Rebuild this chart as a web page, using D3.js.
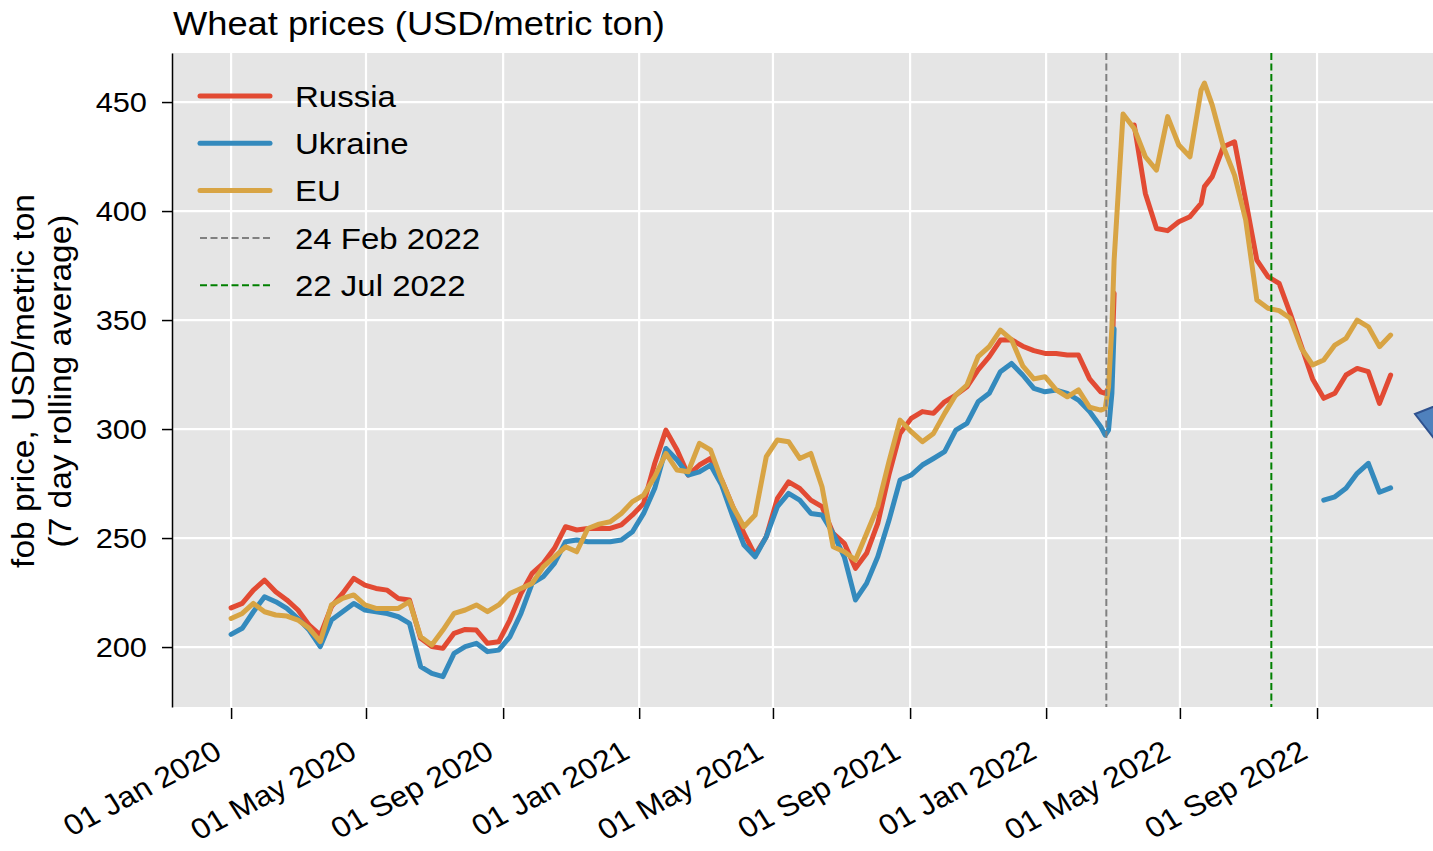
<!DOCTYPE html>
<html>
<head>
<meta charset="utf-8">
<script src="https://cdn.jsdelivr.net/npm/d3@7"></script>
<style>
  body { margin: 0; background: #fff; }
  text { font-family: "Liberation Sans", Arial, Helvetica, sans-serif; fill: #000; }
</style>
</head>
<body>
<div id="my_dataviz"></div>
<script>

// sample dates (roughly every 10 days, a few extra around the jumps)
var dates = [
  "2020-01-01", "2020-01-11", "2020-01-21", "2020-01-31", "2020-02-10", "2020-02-20", "2020-03-01", "2020-03-11", "2020-03-21", "2020-03-31",
  "2020-04-10", "2020-04-20", "2020-04-30", "2020-05-10", "2020-05-20", "2020-05-30", "2020-06-09", "2020-06-19", "2020-06-29", "2020-07-09",
  "2020-07-19", "2020-07-29", "2020-08-08", "2020-08-18", "2020-08-28", "2020-09-07", "2020-09-17", "2020-09-27", "2020-10-07", "2020-10-17",
  "2020-10-27", "2020-11-06", "2020-11-16", "2020-11-26", "2020-12-06", "2020-12-16", "2020-12-26", "2021-01-05", "2021-01-15", "2021-01-25",
  "2021-02-04", "2021-02-14", "2021-02-24", "2021-03-06", "2021-03-16", "2021-03-26", "2021-04-05", "2021-04-15", "2021-04-25", "2021-05-05",
  "2021-05-15", "2021-05-25", "2021-06-04", "2021-06-14", "2021-06-24", "2021-07-04", "2021-07-14", "2021-07-24", "2021-08-03", "2021-08-13",
  "2021-08-23", "2021-09-02", "2021-09-12", "2021-09-22", "2021-10-02", "2021-10-12", "2021-10-22", "2021-11-01", "2021-11-11", "2021-11-21",
  "2021-12-01", "2021-12-11", "2021-12-21", "2021-12-31", "2022-01-10", "2022-01-20", "2022-01-30", "2022-02-09", "2022-02-19",
  "2022-02-23", "2022-02-26",
  "2022-03-01", "2022-03-03",
  "2022-03-11", "2022-03-21", "2022-03-31", "2022-04-10", "2022-04-20", "2022-04-30", "2022-05-10", "2022-05-20",
  "2022-05-23",
  "2022-05-30", "2022-06-09", "2022-06-19", "2022-06-29", "2022-07-09", "2022-07-19", "2022-07-29", "2022-08-08", "2022-08-18", "2022-08-28",
  "2022-09-07", "2022-09-17", "2022-09-27", "2022-10-07", "2022-10-17", "2022-10-27", "2022-11-06"
];

var russia = [
  218.0, 220.0, 226.1, 230.7, 225.4, 221.6, 217.0, 210.0, 205.5, 218.5,
  224.6, 231.5, 228.4, 226.9, 226.1, 222.3, 221.6, 204.0, 200.2, 199.4,
  206.3, 208.1, 207.8, 201.7, 202.4, 212.4, 224.6, 233.8, 238.4, 245.3,
  255.2, 253.7, 254.4, 254.4, 254.4, 256.0, 260.6, 265.9, 284.3, 299.5,
  290.4, 278.9, 283.5, 286.5, 276.6, 264.4, 252.1, 242.2, 250.6, 268.2,
  275.8, 272.8, 267.4, 264.4, 252.1, 247.6, 236.1, 243.0, 256.7, 279.0,
  298.0, 304.9, 308.0, 307.2, 312.5, 315.6, 319.4, 327.1, 333.2, 340.8,
  341.0, 338.0, 336.0, 334.7, 334.7, 334.0, 334.0, 323.0, 317.1,
  316.4, 318.7,
  331.7, 362.3,
  null, 439.5, 408.1, 392.0, 391.0, 395.1, 397.4, 403.5,
  411.2,
  415.8, 429.5, 431.8, 405.0, 377.5, 369.9, 366.8, 353.0, 338.0, 323.0,
  314.1, 316.4, 324.8, 327.8, 326.3, 311.8, 324.8
];

var ukraine = [
  205.8, 208.6, 216.2, 223.1, 220.8, 217.7, 213.1, 207.8, 200.2, 212.4,
  216.2, 220.0, 217.0, 216.2, 215.4, 213.9, 210.9, 191.0, 187.9, 186.4,
  197.1, 200.2, 201.7, 197.9, 198.6, 204.7, 215.4, 229.2, 232.3, 238.4,
  248.3, 249.1, 248.3, 248.3, 248.3, 249.1, 252.9, 261.3, 272.8, 291.1,
  285.8, 278.9, 280.4, 283.5, 274.3, 259.8, 246.8, 241.4, 250.6, 264.4,
  270.5, 267.4, 261.3, 260.6, 252.1, 241.4, 221.6, 229.2, 241.4, 258.0,
  276.6, 278.9, 283.5, 286.5, 289.6, 299.5, 302.6, 312.5, 316.4, 326.3,
  330.1, 324.8, 318.7, 317.1, 317.9, 316.4, 313.3, 308.0, 301.1,
  297.2, 299.5,
  316.4, 346.0,
  null, null, null, null, null, null, null, null,
  null,
  null, null, null, null, null, null, null, null, null, null,
  267.4, 268.9, 272.8, 279.7, 284.3, 271.0, 273.0
];

var eu = [
  213.1, 215.4, 220.0, 216.2, 214.7, 214.2, 212.4, 208.6, 202.5, 219.3,
  222.3, 223.9, 219.3, 217.7, 217.7, 217.7, 220.8, 204.7, 200.9, 207.8,
  215.4, 217.0, 219.3, 216.2, 219.3, 224.6, 226.9, 229.2, 236.8, 241.4,
  246.0, 243.7, 254.4, 256.4, 257.5, 261.3, 266.7, 269.7, 278.1, 288.8,
  281.2, 280.4, 293.4, 290.4, 276.6, 264.4, 255.2, 260.6, 287.3, 295.0,
  294.2, 286.5, 288.8, 273.5, 246.0, 243.7, 239.9, 252.1, 264.4, 285.0,
  304.1, 298.8, 294.2, 298.0, 307.2, 315.6, 320.2, 333.2, 337.8, 345.4,
  341.0, 329.0, 323.0, 324.0, 318.0, 314.8, 318.0, 310.0, 308.7,
  309.5, 319.4,
  346.9, 377.5,
  444.5, 437.9, 424.9, 418.8, 443.3, 430.3, 424.9, 455.5,
  458.7,
  448.6, 429.5, 416.5, 395.9, 359.2, 355.4, 354.3, 350.8, 337.0, 329.4,
  331.7, 338.5, 341.6, 350.0, 346.9, 337.8, 343.1
];

var seriesNames = ["Russia", "Ukraine", "EU"];
var seriesColors = ["#E24A33", "#348ABD", "#D8A444"];

var eventDates = ["2022-02-24", "2022-07-22"];
var eventLabels = ["24 Feb 2022", "22 Jul 2022"];
var eventColors = ["#808080", "#008000"];

var yTicks = [200, 250, 300, 350, 400, 450];
var xTicks = ["2020-01-01", "2020-05-01", "2020-09-01", "2021-01-01", "2021-05-01",
              "2021-09-01", "2022-01-01", "2022-05-01", "2022-09-01"];

var title = "Wheat prices (USD/metric ton)";
var yLabel = ["fob price, USD/metric ton", "(7 day rolling average)"];


var parseDate = d3.timeParse("%Y-%m-%d");
var sx = 1.1;   // the picture is a bit wider than tall, text follows it

var width = 1433, height = 851;
var plot = {left: 172, top: 53, right: 1433, bottom: 707};

var svg = d3.select("#my_dataviz")
    .append("svg")
    .attr("width", width)
    .attr("height", height);

var x = d3.scaleTime()
    .domain([parseDate("2019-11-09"), parseDate("2022-12-14")])
    .range([plot.left, plot.right]);

var y = d3.scaleLinear()
    .domain([172.5, 472.5])
    .range([plot.bottom, plot.top]);

// grey panel
svg.append("rect")
    .attr("x", plot.left)
    .attr("y", plot.top)
    .attr("width", plot.right - plot.left)
    .attr("height", plot.bottom - plot.top)
    .attr("fill", "#E5E5E5");

// grid
svg.append("g")
    .selectAll("line.hgrid")
    .data(yTicks)
    .enter()
    .append("line")
    .attr("x1", plot.left)
    .attr("x2", plot.right)
    .attr("y1", function(d) { return y(d); })
    .attr("y2", function(d) { return y(d); })
    .attr("stroke", "#fff")
    .attr("stroke-width", 2.2);

svg.append("g")
    .selectAll("line.vgrid")
    .data(xTicks)
    .enter()
    .append("line")
    .attr("x1", function(d) { return x(parseDate(d)); })
    .attr("x2", function(d) { return x(parseDate(d)); })
    .attr("y1", plot.top)
    .attr("y2", plot.bottom)
    .attr("stroke", "#fff")
    .attr("stroke-width", 2.2);

svg.append("clipPath")
    .attr("id", "clip")
    .append("rect")
    .attr("x", plot.left)
    .attr("y", plot.top)
    .attr("width", plot.right - plot.left)
    .attr("height", plot.bottom - plot.top);

// lines
var allSeries = [russia, ukraine, eu];
var line = d3.line()
    .defined(function(d) { return d.v !== null; })
    .x(function(d) { return x(d.date); })
    .y(function(d) { return y(d.v); });

allSeries.forEach(function(vals, i) {
    var data = dates.map(function(d, j) { return {date: parseDate(d), v: vals[j]}; });
    svg.append("path")
        .datum(data)
        .attr("clip-path", "url(#clip)")
        .attr("fill", "none")
        .attr("stroke", seriesColors[i])
        .attr("stroke-width", 5)
        .attr("stroke-linejoin", "round")
        .attr("stroke-linecap", "round")
        .attr("d", line);
});

// event markers
eventDates.forEach(function(d, i) {
    svg.append("line")
        .attr("x1", x(parseDate(d)))
        .attr("x2", x(parseDate(d)))
        .attr("y1", plot.top)
        .attr("y2", plot.bottom)
        .attr("stroke", eventColors[i])
        .attr("stroke-width", 2)
        .attr("stroke-dasharray", "7,3.5");
});

// y axis
var yAxis = svg.append("g")
    .attr("transform", "translate(" + plot.left + ",0)")
    .call(d3.axisLeft(y).tickValues(yTicks).tickSize(10).tickSizeOuter(0));
yAxis.select(".domain").attr("stroke", "#000").attr("stroke-width", 1.5);
yAxis.selectAll(".tick line").attr("stroke", "#000").attr("stroke-width", 1.5);
yAxis.selectAll(".tick text")
    .attr("x", 0)
    .attr("transform", "translate(-25,0) scale(" + sx + ",1)")
    .style("font-size", "28px")
    .style("font-family", "Liberation Sans, Arial, sans-serif");

// x axis
var xAxis = svg.append("g")
    .attr("transform", "translate(0," + (plot.bottom + 1) + ")")
    .call(d3.axisBottom(x)
        .tickValues(xTicks.map(parseDate))
        .tickFormat(d3.timeFormat("%d %b %Y"))
        .tickSize(11)
        .tickSizeOuter(0));
xAxis.select(".domain").remove();
xAxis.selectAll(".tick line").attr("stroke", "#000").attr("stroke-width", 1.5);
xAxis.selectAll(".tick text")
    .attr("x", 0)
    .attr("y", 0)
    .attr("dy", 0)
    .attr("text-anchor", "end")
    .attr("transform", "translate(-8,49) scale(" + sx + ",1) rotate(-30)")
    .style("font-size", "29px")
    .style("font-family", "Liberation Sans, Arial, sans-serif");

// title
svg.append("text")
    .attr("transform", "translate(173,35) scale(" + sx + ",1)")
    .style("font-size", "33px")
    .text(title);

// y label, two lines
yLabel.forEach(function(t, i) {
    svg.append("text")
        .attr("transform", "translate(" + (34 + i * 37) + ",381) rotate(-90) scale(1.08,1)")
        .attr("text-anchor", "middle")
        .style("font-size", "31px")
        .text(t);
});

// legend
var legendItems = seriesNames.map(function(n, i) {
    return {label: n, color: seriesColors[i], dash: null, w: 5};
}).concat(eventLabels.map(function(n, i) {
    return {label: n, color: eventColors[i], dash: "7,3.5", w: 2};
}));

var legend = svg.append("g");
legendItems.forEach(function(d, i) {
    var ly = 96 + i * 47.3;
    legend.append("line")
        .attr("x1", 200)
        .attr("x2", 270)
        .attr("y1", ly)
        .attr("y2", ly)
        .attr("stroke", d.color)
        .attr("stroke-width", d.w)
        .attr("stroke-linecap", d.dash ? "butt" : "round")
        .attr("stroke-dasharray", d.dash);
    legend.append("text")
        .attr("transform", "translate(295," + (ly + 10.7) + ") scale(" + sx + ",1)")
        .style("font-size", "30px")
        .text(d.label);
});

// cut-off callout arrow at the right edge
svg.append("path")
    .attr("d", "M1415,414 L1440,404 L1440,446 Z")
    .attr("fill", "#4F81BD")
    .attr("stroke", "#2F528F")
    .attr("stroke-width", 2);

</script>
</body>
</html>
